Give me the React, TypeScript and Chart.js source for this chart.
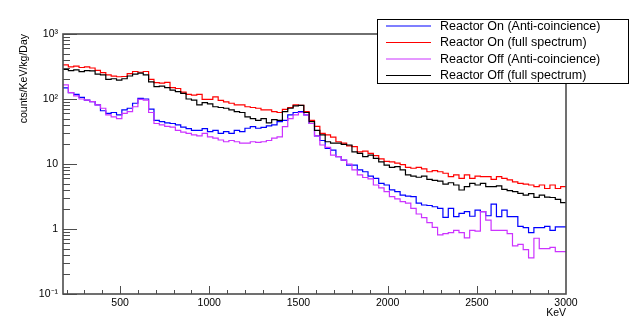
import { useEffect, useRef } from 'react';
import { Chart, registerables } from 'chart.js';

Chart.register(...registerables);

const BIN_START = 180;
const BIN_WIDTH = 30;

// Reactor On (Anti-coincidence) — blue
const reactorOnAnti = [
  148, 125, 118, 106, 96, 91, 81, 66, 60, 62,
  57, 68, 72, 86, 102, 100, 70, 47, 45, 43,
  42, 40, 37, 35, 33, 33, 35, 31.4, 33, 29.5,
  31.4, 29.5, 33, 31.4, 35.5, 37.5, 35.5, 36.5, 38.5, 40,
  45, 47, 57, 62, 64, 57, 42, 27, 23, 17.4,
  16.4, 13, 11.5, 9.6, 9.6, 8.1, 7.6, 6.5, 6.0, 5.05,
  4.75, 4.0, 3.75, 3.33, 3.2, 3.14, 2.5, 2.34, 2.3, 2.2,
  2.08, 1.51, 2.08, 1.55, 1.74, 1.85, 1.57, 1.95, 1.85, 1.6,
  2.42, 1.55, 1.95, 1.55, 1.55, 1.1, 1.05, 0.88, 1.05, 1.05,
  1.1, 0.95, 1.08, 1.08,
];

// Reactor On (full spectrum) — red
const reactorOnFull = [
  334, 313, 320, 305, 313, 300, 275, 255, 235, 225,
  220, 222, 245, 265, 258, 265, 200, 178, 175, 180,
  150, 145, 128, 118, 115, 118, 99, 99, 108, 95,
  90, 86, 81, 81, 76, 74, 72, 68, 68, 64,
  62, 69, 74, 81, 80, 64, 47, 38, 29.5, 28,
  26, 22, 21, 19, 18.5, 15.4, 15.8, 14.6, 13.5, 12,
  11, 10.8, 10.3, 9.8, 8.9, 8.6, 8.9, 8.4, 7.6, 7.9,
  7.6, 7.2, 6.4, 6.8, 6.0, 6.8, 6.0, 6.5, 6.4, 6.4,
  5.8, 6.4, 6.0, 5.7, 5.3, 5.05, 4.9, 4.75, 4.5, 4.75,
  4.2, 4.75, 4.2, 4.5,
];

// Reactor Off (Anti-coincidence) — magenta
const reactorOffAnti = [
  165, 125, 112, 100, 96, 91, 81, 72, 57, 53,
  50, 60, 64, 76, 99, 96, 62, 42, 40, 38,
  37, 33, 31, 29.5, 28, 27, 29.5, 26.2, 25, 23.4,
  22, 23, 22, 21, 21, 22, 21.5, 22, 23, 25,
  26.2, 37.5, 50, 57, 62, 57, 42, 27, 19.6, 18,
  13.7, 13, 11.5, 10, 8.1, 6.8, 6.2, 5.9, 4.75, 4.3,
  3.75, 3.14, 2.9, 2.63, 2.5, 2.08, 1.7, 1.5, 1.25, 1.06,
  0.81, 0.85, 0.88, 0.95, 0.88, 0.73, 0.95, 0.93, 1.85, 1.37,
  0.95, 0.95, 0.95, 0.85, 0.55, 0.58, 0.48, 0.36, 0.72, 0.5,
  0.5, 0.52, 0.45, 0.45,
];

// Reactor Off (full spectrum) — black
const reactorOffFull = [
  286, 273, 280, 263, 273, 270, 242, 235, 200, 205,
  195, 205, 226, 242, 250, 235, 184, 155, 158, 150,
  137, 130, 122, 100, 96, 81, 88, 84, 76, 74,
  72, 68, 64, 62, 53, 50, 47, 50, 43, 48,
  47, 64, 72, 78.5, 80, 62, 45, 33, 28, 22,
  21, 21, 20, 19.6, 15.4, 14.6, 13, 13.7, 12.2, 10.8,
  9.6, 8.9, 9.1, 8.1, 6.8, 6.5, 6.25, 6.5, 5.8, 5.6,
  5.45, 4.9, 5.15, 4.75, 3.98, 4.5, 5.05, 4.75, 5.05, 4.5,
  4.5, 4.6, 4.08, 3.9, 3.75, 3.54, 3.33, 3.5, 3.07, 3.33,
  3.1, 3.05, 2.86, 2.54,
];

const legendLabels = [
  'Reactor On (Anti-coincience)',
  'Reactor On (full spectrum)',
  'Reactor Off (Anti-coincience)',
  'Reactor Off (full spectrum)',
];
const seriesColors = ['#0000ff', '#ff0000', '#cc33ff', '#000000'];
const seriesValues = [reactorOnAnti, reactorOnFull, reactorOffAnti, reactorOffFull];

const xMajorTicks = [500, 1000, 1500, 2000, 2500, 3000];
const yMajorTicks = [0.1, 1, 10, 100, 1000];
const yTickLabels = ['10\u207B\u00B9', '1', '10', '10\u00B2', '10\u00B3'];

const FONT = "'Liberation Sans', Arial, Helvetica, sans-serif";

function toSteps(values: number[]) {
  const pts = values.map((v, i) => ({ x: BIN_START + i * BIN_WIDTH, y: v }));
  pts.push({ x: BIN_START + values.length * BIN_WIDTH, y: values[values.length - 1] });
  return pts;
}

const rootFrame = {
  id: 'rootFrame',
  afterDatasetsDraw(chart: any) {
    const { ctx, chartArea, scales } = chart;
    const { left, right, top, bottom } = chartArea;
    const xs = scales.x;
    const ys = scales.y;
    ctx.save();
    ctx.strokeStyle = '#4d4d4d';
    ctx.lineWidth = 1;
    ctx.beginPath();
    for (let v = 200; v < 3000; v += 100) {
      const px = Math.round(xs.getPixelForValue(v)) + 0.5;
      const len = v % 500 === 0 ? 8 : 4;
      ctx.moveTo(px, bottom);
      ctx.lineTo(px, bottom - len);
    }
    for (let e = -1; e < 3; e++) {
      const d = Math.pow(10, e);
      for (let k = 1; k <= 9; k++) {
        const py = Math.round(ys.getPixelForValue(d * k)) + 0.5;
        const len = k === 1 ? 14 : 7;
        ctx.moveTo(left, py);
        ctx.lineTo(left + len, py);
      }
    }
    const pTop = Math.round(ys.getPixelForValue(1000)) + 0.5;
    ctx.moveTo(left, pTop);
    ctx.lineTo(left + 14, pTop);
    ctx.stroke();
    ctx.lineWidth = 1.6;
    ctx.strokeRect(left, top, right - left, bottom - top);
    ctx.restore();
  },
  afterDraw(chart: any) {
    const { ctx } = chart;
    const bx = 377;
    const by = 19.5;
    const bw = 251;
    const bh = 64;
    ctx.save();
    ctx.fillStyle = '#ffffff';
    ctx.fillRect(bx, by, bw, bh);
    ctx.strokeStyle = '#000000';
    ctx.lineWidth = 1;
    ctx.strokeRect(bx + 0.5, by, bw, bh);
    ctx.font = `12.5px ${FONT}`;
    ctx.textBaseline = 'middle';
    ctx.textAlign = 'left';
    legendLabels.forEach((label, i) => {
      const y = 26 + i * 16.5;
      ctx.strokeStyle = seriesColors[i];
      ctx.lineWidth = 1.2;
      ctx.beginPath();
      ctx.moveTo(386, y);
      ctx.lineTo(431, y);
      ctx.stroke();
      ctx.fillStyle = '#000000';
      ctx.fillText(label, 440, y + 0.5);
    });
    ctx.restore();
  },
};

export default function App() {
  const canvasRef = useRef<HTMLCanvasElement | null>(null);

  useEffect(() => {
    const canvas = canvasRef.current;
    if (!canvas) return;
    const chart = new Chart(canvas, {
      type: 'line',
      data: {
        datasets: seriesValues.map((vals, i) => ({
          label: legendLabels[i],
          data: toSteps(vals),
          borderColor: seriesColors[i],
          backgroundColor: seriesColors[i],
          borderWidth: 1.2,
          pointRadius: 0,
          stepped: 'before' as const,
          fill: false,
          order: 3 - i,
        })),
      },
      options: {
        responsive: false,
        animation: false,
        devicePixelRatio: 1,
        layout: { padding: { left: 0, right: 64, top: 34, bottom: 0 } },
        plugins: {
          legend: { display: false },
          tooltip: { enabled: false },
          title: { display: false },
        },
        scales: {
          x: {
            type: 'linear',
            min: BIN_START,
            max: 3000,
            grid: { display: false, drawTicks: false },
            border: { display: false },
            afterBuildTicks: (scale: any) => {
              scale.ticks = xMajorTicks.map((v) => ({ value: v }));
            },
            afterFit: (scale: any) => {
              scale.height = 33;
            },
            ticks: {
              autoSkip: false,
              maxRotation: 0,
              padding: 3,
              color: '#000',
              font: { family: FONT, size: 10.5 },
              callback: (v: any) => String(v),
            },
            title: {
              display: true,
              text: 'KeV',
              align: 'end',
              color: '#000',
              font: { family: FONT, size: 10.5 },
              padding: { top: 0, bottom: 8 },
            },
          },
          y: {
            type: 'logarithmic',
            min: 0.1,
            max: 1000,
            grid: { display: false, drawTicks: false },
            border: { display: false },
            afterBuildTicks: (scale: any) => {
              scale.ticks = yMajorTicks.map((v) => ({ value: v }));
            },
            afterFit: (scale: any) => {
              scale.width = 63;
            },
            ticks: {
              autoSkip: false,
              padding: 5,
              color: '#000',
              font: { family: FONT, size: 10.5 },
              callback: (v: any) => {
                const idx = yMajorTicks.findIndex((t) => Math.abs(Math.log10(t) - Math.log10(Number(v))) < 1e-6);
                return idx >= 0 ? yTickLabels[idx] : '';
              },
            },
            title: {
              display: true,
              text: 'counts/KeV/kg/Day',
              align: 'end',
              color: '#000',
              font: { family: FONT, size: 10.5 },
              padding: { top: 18, bottom: 0 },
            },
          },
        },
      },
      plugins: [rootFrame],
    });
    return () => chart.destroy();
  }, []);

  return (
    <div style={{ position: 'fixed', left: 0, top: 0, width: 630, height: 327, background: '#fff' }}>
      <canvas ref={canvasRef} width={630} height={327} style={{ display: 'block' }} />
    </div>
  );
}
